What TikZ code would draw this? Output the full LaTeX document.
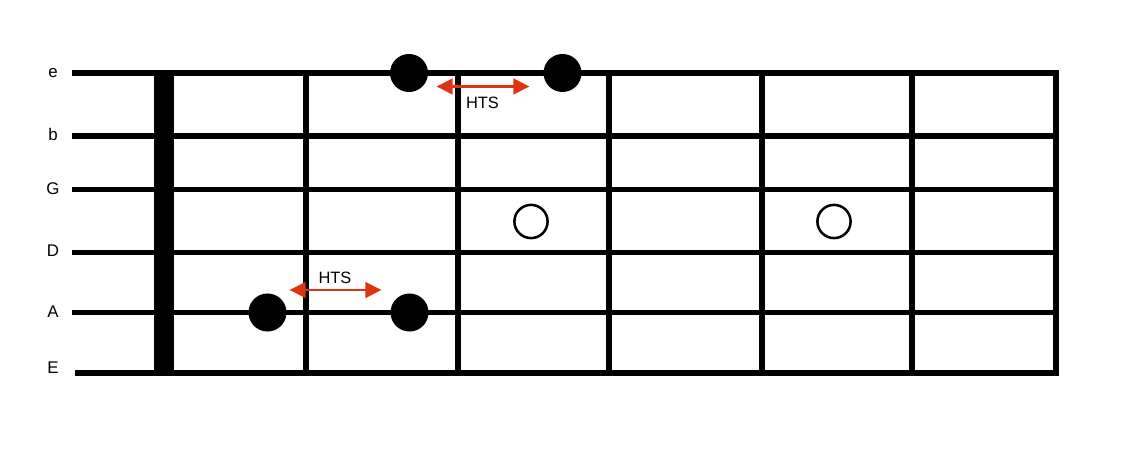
\documentclass[tikz,border=0pt]{standalone}
\usepackage{fontspec}
\setmainfont{Liberation Sans}
\usetikzlibrary{shapes,arrows.meta,positioning,calc}
\definecolor{htsred}{RGB}{221,52,18}

\tikzset{
  gstring/.style={line width=4.25pt},
  fretline/.style={line width=4.25pt},
  strname/.style={font=\fontsize{12}{14}\selectfont, inner sep=0pt},
  fulldot/.style={draw=none, circle, fill=black, minimum size=0.95cm, inner sep=0pt},
  opendot/.style={draw, circle, line width=1.8pt, minimum size=0.83cm, inner sep=0pt},
  htsarrow/.style={draw=htsred, line width=2.1pt,
    {Triangle[length=11.5pt,width=11pt]}-{Triangle[length=11.5pt,width=11pt]}},
  htslabel/.style={font=\fontsize{11.7}{14}\selectfont, inner sep=0pt}
}

\begin{document}
\begin{tikzpicture}[x=0.025cm, y=-0.025cm]
            \useasboundingbox (0,0) rectangle (1148,458);

            % string names
            \node[strname] (le) at (53,73) {e};
            \node[strname] (lb) at (53,134) {b};
            \node[strname] (lG) at (53,189) {G};
            \node[strname] (lD) at (53,251) {D};
            \node[strname] (lA) at (53,311.5) {A};
            \node[strname] (lE) at (53,367.5) {E};

            % strings
            \draw[gstring] (72,73) -- (1059,73);
            \draw[gstring] (72,136) -- (1059,136);
            \draw[gstring] (72,189.5) -- (1059,189.5);
            \draw[gstring] (72,252.5) -- (1059,252.5);
            \draw[gstring] (72,312.5) -- (1059,312.5);
            \draw[gstring] (75,373) -- (1059,373);

            % nut and frets
            \fill (153.5,70) rectangle (174,376);
            \draw[fretline] (306,70) -- (306,376);
            \draw[fretline] (458,70) -- (458,376);
            \draw[fretline] (609,70) -- (609,376);
            \draw[fretline] (762,70) -- (762,376);
            \draw[fretline] (912,70) -- (912,376);
            \draw[fretline] (1056,70) -- (1056,376);

            % notes
            \node[fulldot] (e1) at (409,73) {};
            \node[fulldot] (e2) at (562.5,73) {};
            \node[fulldot] (A1) at (267.5,312.5) {};
            \node[fulldot] (A2) at (409.5,312.5) {};
            \node[opendot] (o1) at (531,221.5) {};
            \node[opendot] (o2) at (834,221.5) {};

            % half tone steps
            \coordinate (t1) at (436.5,86.5);
            \coordinate (t2) at (529.5,86.5);
            \draw[htsarrow] (t1) -- (t2);
            \node[htslabel] (h1) at (482.5,102.5) {HTS};

            \coordinate (b1) at (289.5,290);
            \coordinate (b2) at (381.5,290);
            \draw[htsarrow] (b1) -- (b2);
            \node[htslabel] (h2) at (335,278) {HTS};
\end{tikzpicture}
\end{document}
